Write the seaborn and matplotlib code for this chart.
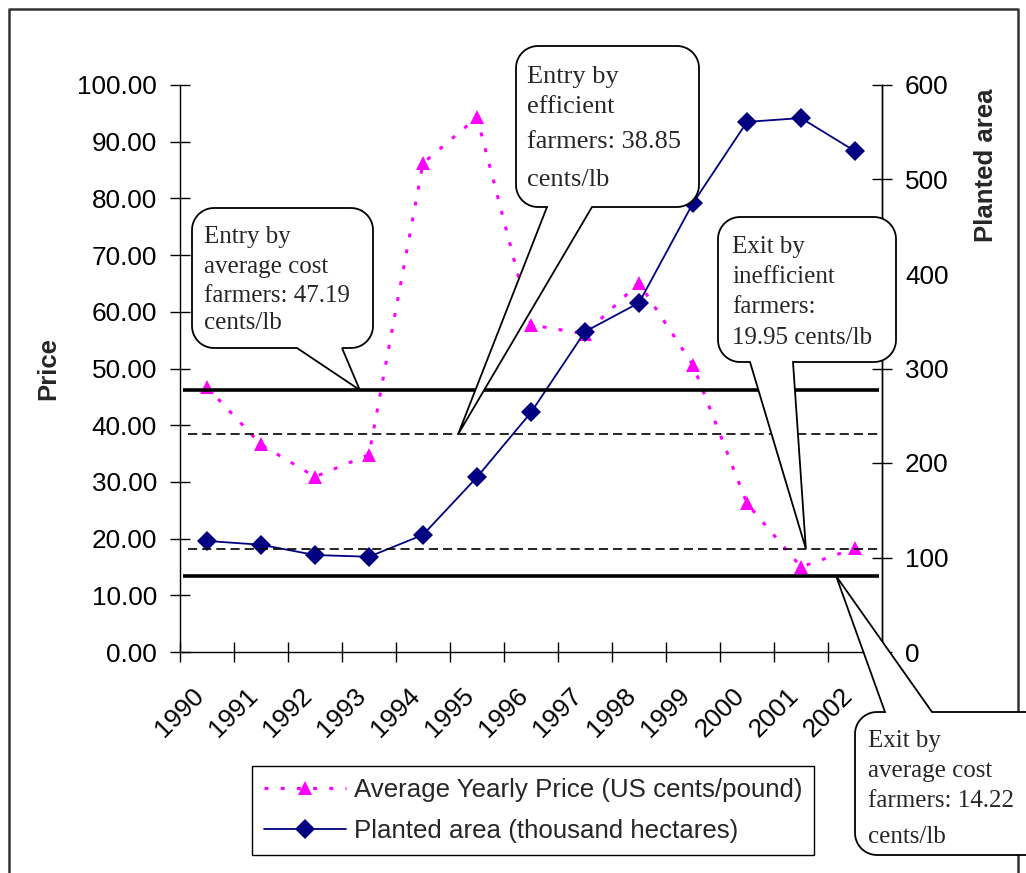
import numpy as np
import pandas as pd
import matplotlib
matplotlib.use("Agg")
import matplotlib.pyplot as plt
import seaborn as sns
from matplotlib.patches import Polygon
from matplotlib.lines import Line2D
from matplotlib.transforms import Affine2D

# ---------------- data ----------------
years = [str(y) for y in range(1990, 2003)]
price = [46.7, 36.6, 30.9, 34.8, 86.2, 94.3, 57.7, 56.1, 65.1, 50.6, 26.2, 15.0, 18.3]
area = [117.5, 113.5, 102.6, 100.8, 124.0, 185.0, 253.5, 339.0, 369.5, 475.0, 561.0, 565.0, 530.0]
price_ticks = [0, 10, 20, 30, 40, 50, 60, 70, 80, 90, 100]
area_ticks = [0, 100, 200, 300, 400, 500, 600]
thresholds = [46.2, 38.4, 18.2, 13.4]
threshold_dashed = [False, True, True, False]
series_labels = ["Average Yearly Price (US cents/pound)", "Planted area (thousand hectares)"]
callout_texts = [
    ["Entry by", "average cost", "farmers: 47.19", "cents/lb"],
    ["Entry by", "efficient", "farmers: 38.85", "cents/lb"],
    ["Exit by", "inefficient", "farmers:", "19.95 cents/lb"],
    ["Exit by", "average cost", "farmers: 14.22", "cents/lb"],
]
# x position (in category units) where each callout pointer touches its threshold line
callout_tip_x = [3.33, 5.15, 11.59, 12.15]

W, H = 1026, 873
DPI = 100

sns.set_theme(style="white")
plt.rcParams["font.family"] = ["Liberation Sans", "DejaVu Sans"]

fig = plt.figure(figsize=(W / DPI, H / DPI), dpi=DPI)
ax = fig.add_axes([180 / W, 1 - 652 / H, (882 - 180) / W, (652 - 85) / H])
ax2 = ax.twinx()

xpos = np.arange(len(years)) + 0.5
df = pd.DataFrame({"x": xpos, "price": price, "area": area})

sns.lineplot(data=df, x="x", y="price", ax=ax, color="#FF00FF", marker="^",
             markersize=10, markeredgewidth=0, linewidth=2.2,
             linestyle=(0, (1.3, 4.0)), label=series_labels[0], legend=False)
sns.lineplot(data=df, x="x", y="area", ax=ax2, color="#000080", marker="D",
             markersize=10, markeredgewidth=0, linewidth=1.3,
             label=series_labels[1], legend=False)

# threshold lines (in price units) drawn on top
for val, dashed in zip(thresholds, threshold_dashed):
    if dashed:
        ax2.plot([0.15, 12.95], [val, val], transform=ax.transData, color="black",
                 linewidth=1.2, linestyle=(0, (5.5, 3.0)), zorder=5)
    else:
        ax2.plot([0.05, 12.95], [val, val], transform=ax.transData, color="black",
                 linewidth=2.6, solid_capstyle="butt", zorder=5)

ax.set_xlim(0, len(years))
ax.set_ylim(0, 100)
ax2.set_ylim(0, 600)

ax.set_xticks(np.arange(len(years) + 1))
ax.set_xticklabels(years + [""], rotation=45, ha="center")
ax.set_yticks(price_ticks)
ax.set_yticklabels([f"{v:.2f}" for v in price_ticks])
ax2.set_yticks(area_ticks)
ax2.set_yticklabels([str(v) for v in area_ticks])

ax.set_xlabel("")
ax.set_ylabel("Price", fontsize=18.5, fontweight="bold", labelpad=12)
ax2.set_ylabel("")

for a in (ax, ax2):
    for s in a.spines.values():
        s.set_color("black")
        s.set_linewidth(1.0)
    a.spines["top"].set_visible(False)
    a.grid(False)
ax2.spines["left"].set_visible(False)
ax2.spines["bottom"].set_visible(False)

ax.tick_params(axis="y", direction="inout", length=15, width=1, labelsize=18.8,
               pad=9, colors="black", left=True)
ax.tick_params(axis="x", direction="inout", length=15, width=1, labelsize=18.8,
               pad=15, colors="black", bottom=True)
ax2.tick_params(axis="y", direction="inout", length=15, width=1, labelsize=18.8,
                pad=9, colors="black", right=True)

fig.text(986 / W, 1 - 165 / H, "Planted area", rotation=90, ha="center", va="center",
         fontsize=18.5, fontweight="bold")

# legend
h1 = Line2D([], [], color="#FF00FF", marker="^", markersize=10, markeredgewidth=0,
            linewidth=2.2, linestyle=(0, (1.3, 4.0)))
h2 = Line2D([], [], color="#000080", marker="D", markersize=10, markeredgewidth=0,
            linewidth=1.3)
leg = fig.legend([h1, h2], series_labels, loc="upper left",
                 bbox_to_anchor=(252 / W, 1 - 766 / H), bbox_transform=fig.transFigure,
                 frameon=True, fancybox=False, edgecolor="black", framealpha=1,
                 fontsize=18.6, handlelength=3.2, handletextpad=0.3, borderpad=0.45,
                 labelspacing=0.68, borderaxespad=0)
leg.get_frame().set_linewidth(1.0)

# ---------------- callouts ----------------
px = Affine2D().scale(1 / W, -1 / H).translate(0, 1) + fig.transFigure


def to_px(xd, yd):
    d = ax.transData.transform((xd, yd))
    return (d[0] * W / fig.bbox.width, H - d[1] * H / fig.bbox.height)


def bubble(x0, y0, x1, y1, r, side, a, b, tip):
    def arc(cx, cy, t0, t1):
        t = np.radians(np.linspace(t0, t1, 14))
        return [(cx + r * np.cos(tt), cy + r * np.sin(tt)) for tt in t]
    pts = []
    pts += arc(x0 + r, y0 + r, 180, 270)
    if side == "top":
        pts += [(a, y0), tip, (b, y0)]
    pts += arc(x1 - r, y0 + r, 270, 360)
    pts += arc(x1 - r, y1 - r, 0, 90)
    if side == "bottom":
        pts += [(b, y1), tip, (a, y1)]
    pts += arc(x0 + r, y1 - r, 90, 180)
    return pts


boxes = [
    # x0, y0, x1, y1, side, a, b, text_x, baselines, fontsize
    (192, 208, 373, 348, "bottom", 297, 342, 204, [243, 273, 302, 329], 18),
    (516, 46, 699, 207, "bottom", 547, 592, 527, [83, 113, 148, 186], 19),
    (718, 217, 896, 362, "bottom", 750, 793, 732, [253, 283, 313, 344], 18),
    (855, 712, 1075, 855, "top", 885, 932, 868, [747, 777, 807, 843], 18),
]

# outer frame of the chart area
fig.add_artist(Line2D([9, 9, 1018, 1018], [880, 9, 9, 880], transform=px,
                      color="#333333", linewidth=1.8, zorder=1))

for (x0, y0, x1, y1, side, a, b, tx, bls, fs), lines, tipx, tval in zip(
        boxes, callout_texts, callout_tip_x, thresholds):
    tip = to_px(tipx, tval)
    poly = Polygon(bubble(x0, y0, x1, y1, 22, side, a, b, tip), closed=True,
                   transform=px, facecolor="white", edgecolor="black",
                   linewidth=1.3, zorder=3)
    fig.add_artist(poly)
    for line, bl in zip(lines, bls):
        fig.text(tx / W, 1 - bl / H, line, ha="left", va="baseline", fontsize=fs,
                 family=["Liberation Serif", "DejaVu Serif"], zorder=4)

fig.savefig("out.png", dpi=DPI)
